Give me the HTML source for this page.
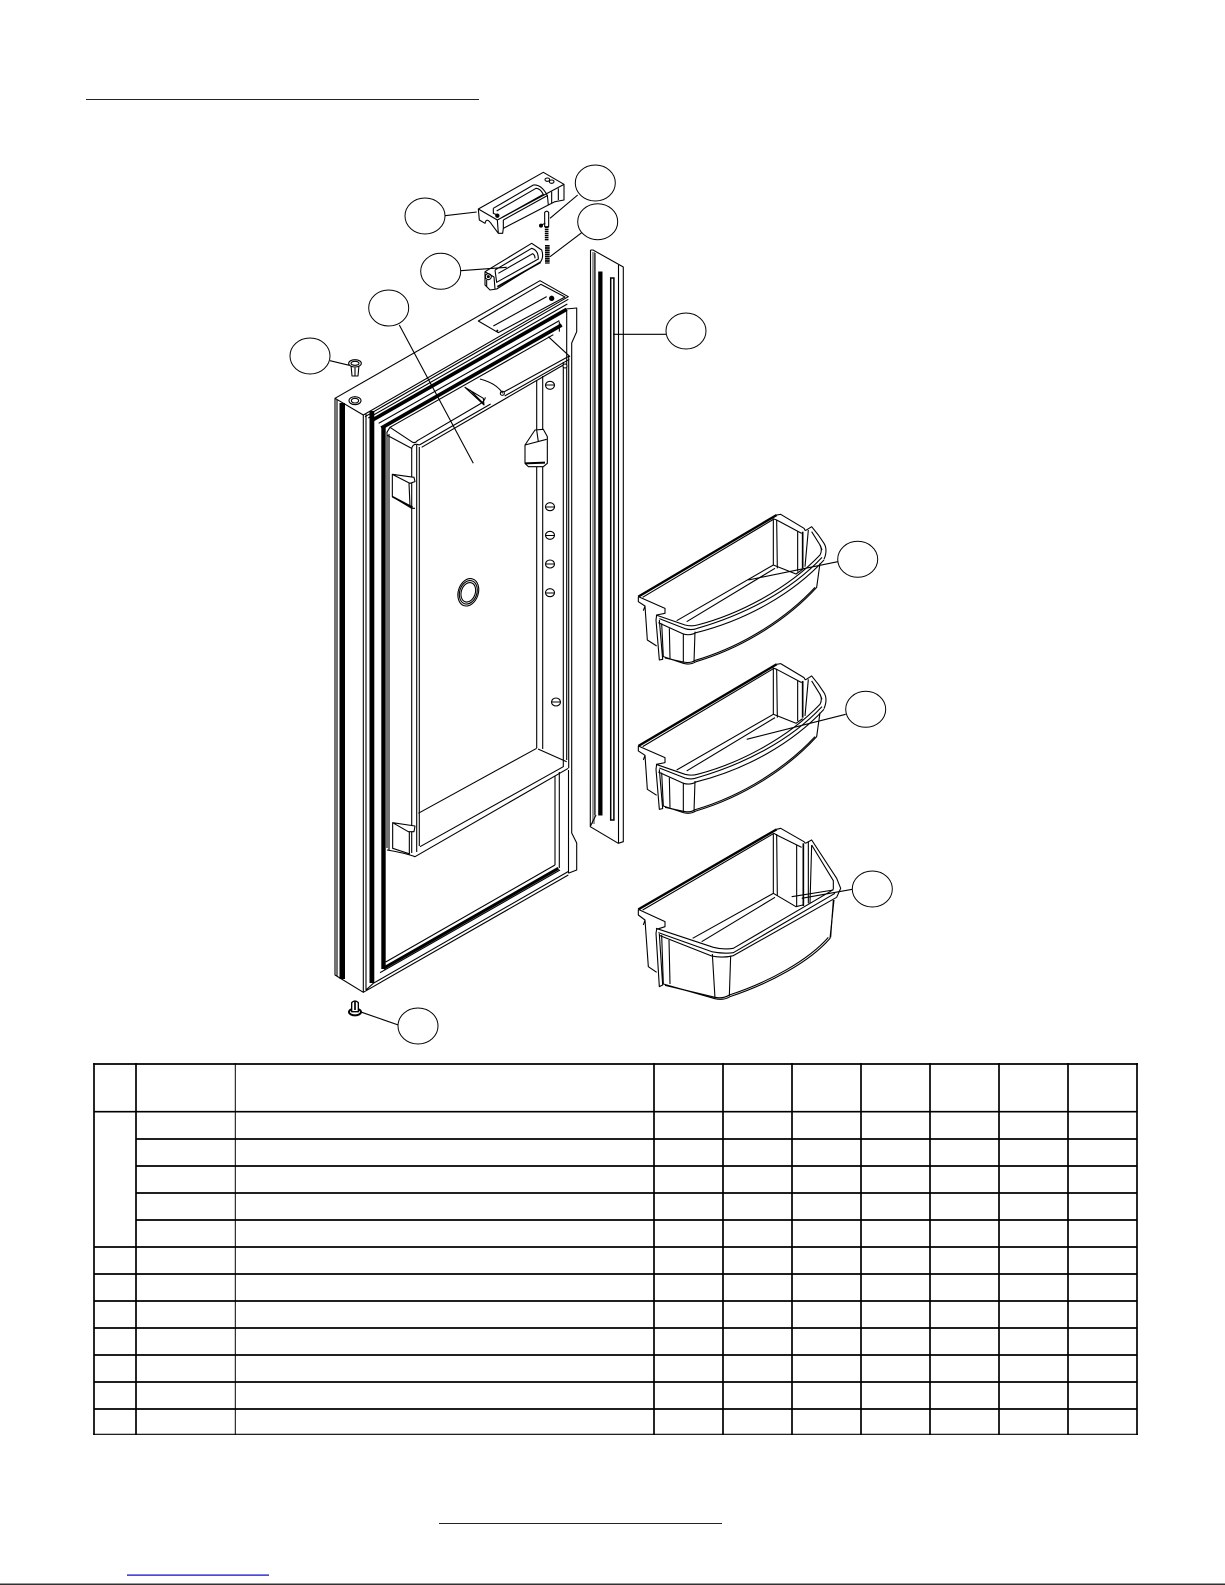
<!DOCTYPE html>
<html><head><meta charset="utf-8"><title>Door parts diagram</title>
<style>html,body{margin:0;padding:0;background:#fff;width:1225px;height:1585px;overflow:hidden}svg{display:block}</style></head>
<body>
<svg width="1225" height="1585" viewBox="0 0 1225 1585" xmlns="http://www.w3.org/2000/svg">
<defs>
<g id="bin" fill="none" stroke="#000" stroke-width="3.3" stroke-linejoin="round">
<path d="M55,290 L470,45" stroke-width="7"/>
<path d="M68,292 L462,57"/>
<path d="M470,45 L482,43 L552,85 L556,92 M462,57 L470,60 L545,100"/>
<path d="M556,92 L575,80 L595,105 L612,130 Q624,150 612,178 M575,95 L600,135 L606,150"/>
<path d="M108,345 L195,375 Q215,380 232,375 C350,345 500,270 600,165 Q608,150 600,135"/>
<path d="M118,356 L195,386 Q215,392 232,385 C370,345 510,275 606,172"/>
<path d="M115,368 L190,402 Q210,408 228,398 C380,360 520,280 612,180"/>
<path d="M170,362 L460,195 M200,365 L465,205 M460,195 L528,222 L548,208"/>
<path d="M460,55 L460,195 M470,60 L472,205 M533,95 L533,215 M565,90 L555,200"/>
<path d="M548,95 L548,205" stroke-width="5"/>
<path d="M125,370 L130,470 L190,490 Q210,496 228,485 C380,440 510,350 590,262 L600,190"/>
<path d="M135,474 L190,486 Q210,491 226,481 C378,436 505,348 585,262"/>
<path d="M190,400 L190,488 M225,395 L222,486 M148,385 L150,475"/>
<path d="M55,290 L55,305 L75,318 L82,420 L110,438 M55,290 L135,325 L135,340 L110,345 L108,360 L118,480 L128,478 L118,360 M75,318 L70,332"/>
</g>
<ellipse id="peg" cx="0" cy="0" rx="4.5" ry="4" fill="#fff" stroke="#000" stroke-width="1.1"/>
</defs>
<rect width="1225" height="1585" fill="#fff"/>

<!-- page rules -->
<rect x="86" y="99" width="393" height="1" fill="#222"/>
<rect x="439" y="1523" width="283" height="1" fill="#222"/>
<rect x="127" y="1574.5" width="142" height="1.2" fill="#0000c8"/>
<rect x="0" y="1583.6" width="1225" height="1.2" fill="#000"/>

<!-- door: straight lines in page coords -->
<g fill="none" stroke="#000" stroke-width="1.1" stroke-linejoin="round">
<path d="M335,398.3 L540,280.7 L568.3,296.7 L363.3,415 Z"/>
<path d="M335,398.3 L335,975 L363.3,992.3 L363.3,415"/>
<path d="M337,400 L337,976"/>
<path d="M366,414 L366,990"/>
<path d="M363.3,992.3 L568.3,875 M373.3,983.3 L568.3,871.5 M366,990 L373.3,983.3"/>
<path d="M566,309 L576.7,308 L576.7,331.7 L571.7,343 L571.7,833 L576.7,843 L576.7,870 L568.3,873.3"/>
<path d="M566.7,310 L566.7,760 M568.7,356 L568.7,768 M568.5,770 L568.5,873"/>
<path d="M563.3,362 L563.3,767 M555,776 L555,865 M559.3,772 L559.3,868"/>
<path d="M387,432 L387,848 M389,434 L389,850"/>
<path d="M385.7,962 L555,865"/>
<path d="M411.7,448 L411.7,853 M416.7,445 L416.7,852 M419.3,447 L419.3,846"/>
<path d="M536.7,380 L536.7,748 M542.7,376 L542.7,749"/>
<path d="M387,850 Q405,853 415,856.7 L568.3,768.3 M420,846.7 L563.3,766.7 M418.3,813.3 L536.7,748.3 M538,749 L566.7,761.7"/>
</g>
<rect x="339.5" y="403" width="5.5" height="576" fill="#000"/>
<rect x="369.5" y="411" width="4.8" height="572" fill="#000"/>
<rect x="381.3" y="426" width="4.4" height="543" fill="#000"/>

<!-- zoom-1 space -->
<g transform="translate(280 150) scale(.33333)" fill="none" stroke="#000" stroke-width="3.3" stroke-linejoin="round">
<path d="M595,513 L783,403 L855,441 L655,548 Z M640,528 L800,440"/>
<circle cx="815" cy="445" r="8" fill="#000" stroke="none"/><circle cx="652" cy="542" r="3" fill="#000" stroke="none"/>
<ellipse cx="225" cy="752" rx="18" ry="12"/><ellipse cx="225" cy="752" rx="11" ry="7"/>
<path d="M255,800 L865,448 M265,804 L862,462"/>
<path d="M274,812 L860,478" stroke-width="11"/>
<path d="M296,820 L838,512"/>
<path d="M304,834 L845,525" stroke-width="11"/>
<path d="M805,560 L870,620 M425,892 L850,645"/>
<path d="M668,728 L868,618 M674,738 L868,628"/>
<path d="M838,515 L838,545"/>
<circle cx="667" cy="730" r="6" fill="#fff"/>
<circle cx="855" cy="648" r="6" fill="#fff"/>
<path d="M555,712 L610,745 L612,765 Z M600,687 Q650,700 668,730 M570,720 L610,760"/>

<!-- screw F -->
<path d="M213,645 L216,678 L234,678 L237,645" fill="#fff"/>
<ellipse cx="225" cy="640" rx="19" ry="11" fill="#fff"/><ellipse cx="225" cy="640" rx="12" ry="6"/>
<path d="M225,653 L225,678"/>

<!-- clip right -->
<path d="M735,885 L765,840 L790,838 L802,860 L802,940 L790,950 L745,950 L735,940 Z" fill="#fff"/>
<path d="M735,885 L800,868 M770,840 L775,875"/>
<path d="M735,940 L795,938" stroke-width="6"/>
</g>

<!-- panel corner -->
<g transform="translate(360 380) scale(.33333)" fill="none" stroke="#000" stroke-width="3.3" stroke-linejoin="round">
<path d="M80,158 L90,142 L155,185 Q165,192 172,182 L360,72 Q375,62 376,52"/>
<path d="M82,166 L155,205 M155,205 Q160,188 178,195 M178,195 L392,72"/>
<path d="M90,142 L580,-136"/>
</g>

<!-- handles -->
<g transform="translate(470 165) scale(.33333)" fill="none" stroke="#000" stroke-width="3.3" stroke-linejoin="round">
<path d="M25,132 L220,22 L282,58 L282,105 L255,110 L235,120 L100,190 L98,205 L85,205 L65,178 Q50,155 45,175 L28,165 Z" fill="#fff"/>
<path d="M25,132 L82,165 L282,58 M82,165 L85,205 M100,165 L100,190"/>
<path d="M70,130 L190,60 Q215,58 232,92 L100,165 M70,130 L70,145 L82,150"/>
<path d="M80,138 L198,70 Q210,70 220,88 L95,158"/>
<circle cx="82" cy="152" r="6.5" fill="#000" stroke="none"/>
<ellipse cx="232" cy="44" rx="7" ry="5"/><ellipse cx="245" cy="50" rx="7" ry="5"/>
<path d="M232,90 L235,120 M245,80 L245,115 M265,70 L265,105"/>

<!-- pin -->
<path d="M224,142 Q230,135 236,142 L236,185 L224,185 Z" fill="#fff"/>
<circle cx="213" cy="182" r="6" fill="#000" stroke="none"/>
<path d="M213,180 L226,175"/>
<path d="M230,185 L230,228" stroke-width="11" stroke-dasharray="4 2"/>
<path d="M232,240 L232,296" stroke-width="14" stroke-dasharray="5 1.5"/>

<!-- lower -->
<path d="M45,320 L185,235 L215,255 Q222,275 212,290 L80,372 L60,375 L45,360 Z" fill="#fff"/>
<path d="M45,320 L72,336 L75,372 M75,315 L185,250 Q205,255 205,282 L80,352 L75,315"/>
<path d="M85,325 L188,266 Q195,270 195,280"/>
<path d="M82,365 L212,292" stroke-width="5"/>
<circle cx="55" cy="335" r="9"/><circle cx="55" cy="335" r="4.5" fill="#000" stroke="none"/>
<path d="M50,345 L50,365"/>
</g>

<!-- zoom-7 space -->
<g transform="translate(340 380) scale(.33333)" fill="none" stroke="#000" stroke-width="3.3" stroke-linejoin="round">
<path d="M157,283 L222,292 L225,305 L210,310 Z" fill="#fff"/>
<path d="M157,283 L157,350 L215,385 L225,385 M207,310 L210,378"/>
<path d="M157,350 L218,382" stroke-width="5"/>
</g>
<g transform="translate(468.3 592.3) rotate(18)" fill="none" stroke="#000" stroke-width="1.1">
<ellipse rx="10" ry="14"/><ellipse rx="8.6" ry="12"/><ellipse rx="7" ry="10"/>
</g>
<g>
<use href="#peg" x="550" y="385.3"/><use href="#peg" x="550" y="506.7"/><use href="#peg" x="550" y="535.3"/><use href="#peg" x="550" y="564"/><use href="#peg" x="550" y="592.7"/><use href="#peg" x="556" y="702"/>
</g>
<path d="M546,385 L554,385 M546,507 L554,507 M546,535.5 L554,535.5 M546,564 L554,564 M546,593 L554,593 M552,702 L560,702" stroke="#000" stroke-width="1"/>

<!-- zoom-2 space -->
<g transform="translate(320 700) scale(.33333)" fill="none" stroke="#000" stroke-width="3.3" stroke-linejoin="round">
<path d="M218,368 L285,378 L282,395 L265,395 Z" fill="#fff"/>
<path d="M218,368 L218,445 L270,462 M268,395 L268,460"/>
<path d="M190,805 L715,505" stroke-width="9"/>
<path d="M180,818 L720,510"/>
<ellipse cx="105" cy="936" rx="18" ry="10" fill="#fff" stroke-width="6"/>
<path d="M95,908 Q105,898 115,908 L115,935 L95,935 Z" fill="#fff" stroke-width="4"/>
<path d="M105,902 L105,930" stroke-width="5"/>
</g>

<!-- rail -->
<rect x="592" y="252" width="3" height="572" fill="#999"/>
<rect x="598.2" y="271.5" width="4.3" height="544" fill="#000"/>
<rect x="610.7" y="278" width="3.2" height="542" fill="#fff" stroke="#000" stroke-width="1.5"/>
<g fill="none" stroke="#000" stroke-width="1.1" stroke-linejoin="round">
<path d="M590.5,250 L593,250 L623.3,267 L623.3,841.7 L618.3,843.3 L590.3,826.7 L590.5,250"/>
<path d="M595,253 L595,815 M618.5,265 L618.5,843 M590.5,826 L596,815"/>
</g>

<!-- bins -->
<g transform="translate(620 500) scale(.33333)"><use href="#bin"/></g>
<g transform="translate(620 649.3) scale(.33333)"><use href="#bin"/></g>

<g transform="translate(620 810) scale(.33333)" fill="none" stroke="#000" stroke-width="3.3" stroke-linejoin="round">
<path d="M55,298 L470,58" stroke-width="7"/>
<path d="M68,300 L462,70"/>
<path d="M470,58 L482,55 L552,95 L556,100 M462,70 L470,75 L545,112"/>
<path d="M556,100 L575,90 L650,205 L662,235 L650,262 M575,105 L640,212 L640,238"/>
<path d="M108,355 L280,412 Q310,420 340,415 L630,245 L640,238"/>
<path d="M115,368 L275,425 Q310,432 340,428 L645,250"/>
<path d="M118,376 L275,438 Q310,445 340,437 L650,262"/>
<path d="M218,385 L460,250 M245,395 L465,262 M460,250 L528,290 L548,285"/>
<path d="M460,70 L460,250 M470,72 L472,258 M530,105 L530,288 M565,95 L565,280 M575,105 L570,280 M515,260 L640,240"/>
<path d="M550,100 L550,288" stroke-width="5"/>
<path d="M125,375 L130,522 L285,566 Q310,572 330,560 C450,520 570,455 630,385 L642,270"/>
<path d="M135,526 L285,562 Q310,567 328,555 C450,515 565,450 625,382"/>
<path d="M277,432 L285,565 M332,437 L328,558 M147,390 L150,522 M640,270 L632,382"/>
<path d="M55,298 L55,315 L75,330 L85,470 L110,487 M55,298 L135,335 L135,350 L110,358 L108,370 L118,530 L128,525 L118,372 M75,330 L70,345"/>
</g>

<!-- balloons -->
<g fill="#fff" stroke="#000" stroke-width="1">
<ellipse cx="425" cy="216" rx="20" ry="18"/>
<ellipse cx="595.3" cy="183" rx="20" ry="18"/>
<ellipse cx="597.7" cy="221.7" rx="20" ry="18"/>
<ellipse cx="440.7" cy="271.3" rx="20" ry="18"/>
<ellipse cx="388.7" cy="308" rx="20" ry="18"/>
<ellipse cx="310" cy="356" rx="20" ry="18"/>
<ellipse cx="686" cy="331" rx="20" ry="18"/>
<ellipse cx="857.7" cy="559.3" rx="20" ry="18"/>
<ellipse cx="865.7" cy="709.3" rx="20" ry="18"/>
<ellipse cx="872.3" cy="889" rx="20" ry="18"/>
<ellipse cx="418" cy="1026" rx="20" ry="18"/>
</g>
<path fill="none" stroke="#000" stroke-width="1.1" d="M445,215.7 L476.7,212 M577.7,195 L550,218.3 M581.7,232.7 L550,256.7 M460.7,270.7 L506.7,267.3 M399.3,325 L473.3,463.3 M330,360.7 L349.3,365.3 M613,334.3 L666,334.3 M837.7,561.7 L748.3,580 M845.7,714.3 L746.7,739.3 M852.3,889.3 L801.7,898.3 M398.3,1025 L360,1011.7"/>

<!-- table -->
<g fill="none" stroke="#000" stroke-width="1.7">
<path d="M93.2,1064 L1138,1064 M94,1111.7 L1137,1111.7 M136,1139 L1137,1139 M136,1166 L1137,1166 M136,1193 L1137,1193 M136,1220 L1137,1220 M94,1247 L1137,1247 M94,1274 L1137,1274 M94,1301 L1137,1301 M94,1328 L1137,1328 M94,1355 L1137,1355 M94,1382 L1137,1382 M94,1409 L1137,1409"/>
<path d="M94,1063 L94,1435 M136,1063 L136,1435 M654,1063 L654,1435 M723,1063 L723,1435 M792,1063 L792,1435 M861,1063 L861,1435 M930,1063 L930,1435 M999,1063 L999,1435 M1068,1063 L1068,1435 M1137,1063 L1137,1435"/>
<path d="M235.3,1063 L235.3,1435" stroke-width="1"/>
<path d="M93.2,1434.3 L1138,1434.3" stroke-width="1.1"/>
</g>
</svg>
</body></html>
